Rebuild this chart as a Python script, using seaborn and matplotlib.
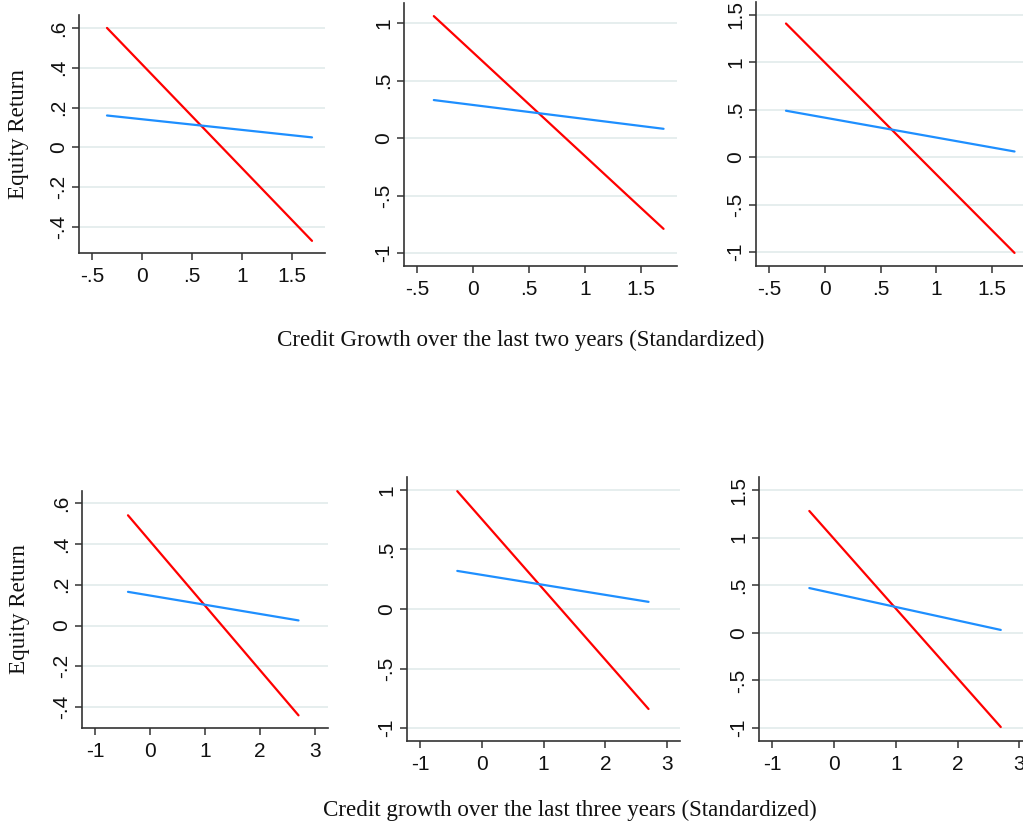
import numpy as np
import pandas as pd
import matplotlib
matplotlib.use("Agg")
import matplotlib.pyplot as plt
import seaborn as sns

# ---- data (line endpoints) ----
x_two = [-0.35, 1.7]
x_three = [-0.4, 2.7]

# top row (two-year credit growth), three panels
red_two_1 = [0.60, -0.47]
blue_two_1 = [0.16, 0.05]
red_two_2 = [1.06, -0.79]
blue_two_2 = [0.33, 0.08]
red_two_3 = [1.41, -1.01]
blue_two_3 = [0.49, 0.06]

# bottom row (three-year credit growth)
red_three_1 = [0.54, -0.44]
blue_three_1 = [0.165, 0.025]
red_three_2 = [0.99, -0.84]
blue_three_2 = [0.32, 0.06]
red_three_3 = [1.28, -0.99]
blue_three_3 = [0.47, 0.03]

xticks_two = [-0.5, 0, 0.5, 1, 1.5]
xticklabels_two = ["-.5", "0", ".5", "1", "1.5"]
xticks_three = [-1, 0, 1, 2, 3]
xticklabels_three = ["-1", "0", "1", "2", "3"]
yticks_a = [-0.4, -0.2, 0, 0.2, 0.4, 0.6]
yticklabels_a = ["-.4", "-.2", "0", ".2", ".4", ".6"]
yticks_b = [-1, -0.5, 0, 0.5, 1]
yticklabels_b = ["-1", "-.5", "0", ".5", "1"]
yticks_c = [-1, -0.5, 0, 0.5, 1, 1.5]
yticklabels_c = ["-1", "-.5", "0", ".5", "1", "1.5"]

xlabel_top = "Credit Growth over the last two years (Standardized)"
xlabel_bottom = "Credit growth over the last three years (Standardized)"
ylabel = "Equity Return"

RED = "#ff0000"
BLUE = "#1e8fff"
GRID = "#e4eded"

sns.set_theme(style="white")
plt.rcParams["font.family"] = ["Liberation Sans", "DejaVu Sans"]

W, H = 1023, 831
fig = plt.figure(figsize=(W / 100, H / 100), dpi=100)


def px_axes(left, right, top, bottom):
    return fig.add_axes([left / W, 1 - bottom / H, (right - left) / W, (bottom - top) / H])


panels = [
    # (pixel box, x, red, blue, xlim, ylim, xticks, xticklabels, yticks, yticklabels)
    ((79, 325, 15, 253), x_two, red_two_1, blue_two_1, (-0.63, 1.83), (-0.531, 0.665),
     xticks_two, xticklabels_two, yticks_a, yticklabels_a),
    ((404, 677, 3, 266), x_two, red_two_2, blue_two_2, (-0.616, 1.82), (-1.113, 1.174),
     xticks_two, xticklabels_two, yticks_b, yticklabels_b),
    ((756, 1023, 2, 266), x_two, red_two_3, blue_two_3, (-0.619, 1.776), (-1.148, 1.637),
     xticks_two, xticklabels_two, yticks_c, yticklabels_c),
    ((82, 328, 491, 728), x_three, red_three_1, blue_three_1, (-1.236, 3.236), (-0.502, 0.659),
     xticks_three, xticklabels_three, yticks_a, yticklabels_a),
    ((407, 680, 477, 741), x_three, red_three_2, blue_three_2, (-1.215, 3.21), (-1.109, 1.109),
     xticks_three, xticklabels_three, yticks_b, yticklabels_b),
    ((759, 1023, 477, 741), x_three, red_three_3, blue_three_3, (-1.215, 3.06), (-1.137, 1.637),
     xticks_three, xticklabels_three, yticks_c, yticklabels_c),
]

for box, xs, red, blue, xlim, ylim, xt, xtl, yt, ytl in panels:
    ax = px_axes(*box)
    df = pd.DataFrame({
        "x": list(xs) + list(xs),
        "y": list(red) + list(blue),
        "group": ["red"] * len(xs) + ["blue"] * len(xs),
    })
    for yv in yt:
        ax.axhline(yv, color=GRID, lw=1.3, zorder=0)
    sns.lineplot(data=df, x="x", y="y", hue="group",
                 palette={"red": RED, "blue": BLUE}, linewidth=1.6,
                 legend=False, ax=ax, zorder=3)
    ax.set_xlim(*xlim)
    ax.set_ylim(*ylim)
    ax.set_xticks(xt)
    ax.set_xticklabels(xtl)
    ax.set_yticks(yt)
    ax.set_yticklabels(ytl, rotation=90, va="center")
    ax.set_xlabel("")
    ax.set_ylabel("")
    for s in ["top", "right"]:
        ax.spines[s].set_visible(False)
    for s in ["left", "bottom"]:
        ax.spines[s].set_color("#333333")
        ax.spines[s].set_linewidth(1.2)
    ax.tick_params(axis="both", which="major", direction="out", length=5, width=1.1,
                   color="#333333", labelsize=15, labelcolor="#111111",
                   bottom=True, left=True)
    ax.tick_params(axis="x", pad=5)
    ax.tick_params(axis="y", pad=3)
    ax.set_facecolor("white")

serif = ["Liberation Serif", "DejaVu Serif"]
fig.text(521 / W, 1 - 340 / H, xlabel_top, ha="center", va="center",
         fontsize=16.6, family=serif, color="#111111")
fig.text(570 / W, 1 - 810 / H, xlabel_bottom, ha="center", va="center",
         fontsize=16.6, family=serif, color="#111111")
fig.text(19 / W, 1 - 134 / H, ylabel, ha="center", va="center", rotation=90,
         fontsize=16.6, family=serif, color="#111111")
fig.text(20 / W, 1 - 609 / H, ylabel, ha="center", va="center", rotation=90,
         fontsize=16.6, family=serif, color="#111111")

fig.savefig("out.png", dpi=100, facecolor="white")
